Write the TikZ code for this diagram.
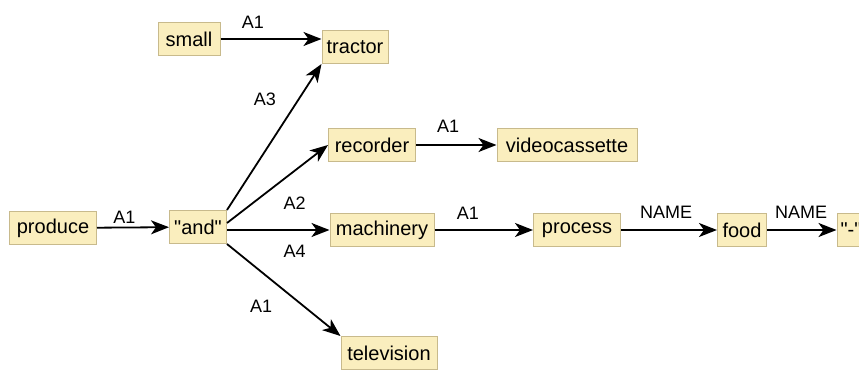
\documentclass[tikz,border=0pt]{standalone}
\usepackage{fontspec}
\setmainfont{Liberation Sans}[Ligatures=TeXOff]
\usetikzlibrary{arrows.meta, positioning}
\definecolor{nodefill}{RGB}{250,238,190}
\definecolor{nodeline}{RGB}{200,186,140}

\begin{document}
\begin{tikzpicture}[x=1pt, y=-1pt, >={Stealth[length=18pt,width=14pt,inset=5pt]},
  word/.style={draw=nodeline, fill=nodefill, line width=1pt, inner sep=2pt,
               minimum height=33pt, font=\fontsize{20}{23}\selectfont},
  rel/.style={inner sep=0pt, font=\fontsize{18}{21}\selectfont},
  link/.style={line width=1.8pt, ->}]

\useasboundingbox (0,0) rectangle (859,380);

% Mots
\foreach \n/\t/\x/\y/\w in {small/small/189/39/62, tractor/tractor/355/47/66,
    recorder/recorder/372/145/87, video/videocassette/567/145/140,
    produce/produce/53/228/87, and/{"and"}/198/227/57,
    machinery/machinery/382/230/104, process/process/577/230/87,
    food/food/742/230/49, dash/{"-"}/851/230/28,
    television/television/389/353/96}
  \node[word, minimum width=\w pt] (\n) at (\x,\y) {\t};

% Relations
\draw[link] (small) -- (small -| tractor.west)
  node[rel, pos=.32, above=10pt] {A1};
\draw[link] (and.north east) -- (tractor.south west)
  node[rel, pos=.76, left=22pt] {A3};
\draw[link] ([yshift=4pt]and.east) -- (recorder.west);
\draw[link] (and.east |- machinery.west) -- (machinery.west)
  node[rel, pos=.66, above=20pt] {A2}
  node[rel, pos=.66, below=14pt] {A4};
\draw[link] (and.south east) -- (television.north west)
  node[rel, pos=.3, below=28pt] {A1};
\draw[link] (recorder) -- (video)
  node[rel, pos=.4, above=12pt] {A1};
\draw[link] (produce) -- (and)
  node[rel, pos=.38, above=3pt] {A1};
\draw[link] (machinery) -- (process)
  node[rel, pos=.34, above=10pt] {A1};
\draw[link] (process) -- (food)
  node[rel, pos=.47, above=11pt] {NAME};
\draw[link] (food) -- (dash)
  node[rel, pos=.49, above=11pt] {NAME};

\end{tikzpicture}
\end{document}
